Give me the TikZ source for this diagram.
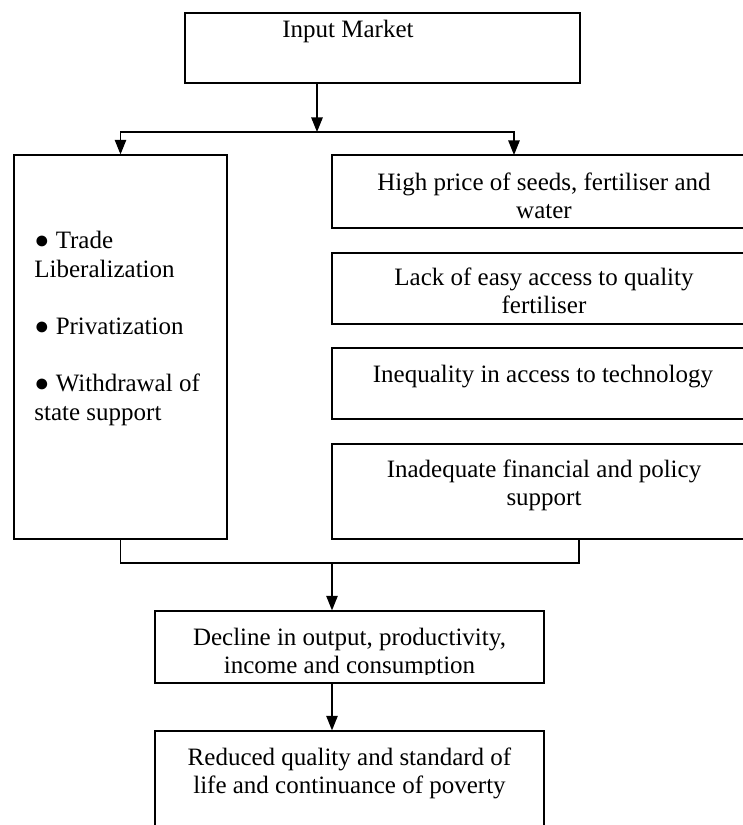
\documentclass[tikz,border=0pt]{standalone}
\usepackage{fontspec}
\setmainfont{Liberation Serif}
\usetikzlibrary{arrows.meta,fit}
\begin{document}
\begin{tikzpicture}[
    x=0.48pt, y=-0.48pt,
    font=\fontsize{12}{13}\selectfont,
    box/.style={draw=black, line width=0.6pt, inner sep=0pt},
    txt/.style={inner sep=0pt, align=center, anchor=base},
    lnk/.style={black, line width=0.6pt},
    arr/.style={lnk, -{Triangle[length=7pt, width=5.5pt]}},
  ]
  \useasboundingbox (0,0) rectangle (743,825);

  % ---- layout -----------------------------------------------------------------
  % one unit = one pixel of the page, y grows downwards;
  % texts are placed by the baseline of their last line

  % ---- boxes ------------------------------------------------------------------
  \node[box, fit={(185,13) (580,83)}]   (market)  {};
  \node[box, fit={(14,155) (227,539)}]  (reform)  {};
  \node[box, fit={(332,155) (758,228)}] (price)   {};
  \node[box, fit={(332,253) (758,324)}] (access)  {};
  \node[box, fit={(332,348) (758,419)}] (techno)  {};
  \node[box, fit={(332,444) (758,539)}] (policy)  {};
  \node[box, fit={(155,611) (544,683)}] (decline) {};
  \node[box, fit={(155,731) (544,850)}] (poverty) {};

  % ---- texts ------------------------------------------------------------------
  \node[txt] (market-t) at (348,37) {Input Market};
  \node[txt, align=left, anchor=base west, font=\fontsize{12}{13.7}\selectfont]
    (reform-t) at (34,420)
    {● Trade\\Liberalization\\[13.7pt]● Privatization\\[13.7pt]● Withdrawal of\\state support};
  \node[txt] (price-t)  at (544,218) {High price of seeds, fertiliser and\\water};
  \node[txt] (access-t) at (544,313) {Lack of easy access to quality\\fertiliser};
  \node[txt] (techno-t) at (543,382) {Inequality in access to technology};
  \node[txt] (policy-t) at (544,505) {Inadequate financial and policy\\support};
  \begin{scope}
    \clip (155,611) rectangle (544,674);   % second line is cut by the box
    \node[txt] (decline-t) at (349.5,673) {Decline in output, productivity,\\income and consumption};
  \end{scope}
  \node[txt] (poverty-t) at (349.5,793) {Reduced quality and standard of\\life and continuance of poverty};

  % ---- connectors -------------------------------------------------------------
  \coordinate (split)       at (317,132);
  \coordinate (into-price)  at (514,155);
  \coordinate (join)        at (332,563);
  \coordinate (from-policy) at (579,539);

  \draw[arr] (market.south -| split) -- (split);
  \draw[arr] (split) -| (reform.north);
  \draw[arr] (split) -| (into-price);

  \draw[lnk] (reform.south) |- (join);
  \draw[lnk] (from-policy) |- (join);
  \draw[arr] (join) -- (join |- decline.north);
  \draw[arr] (join |- decline.south) -- (join |- poverty.north);

\end{tikzpicture}
\end{document}
